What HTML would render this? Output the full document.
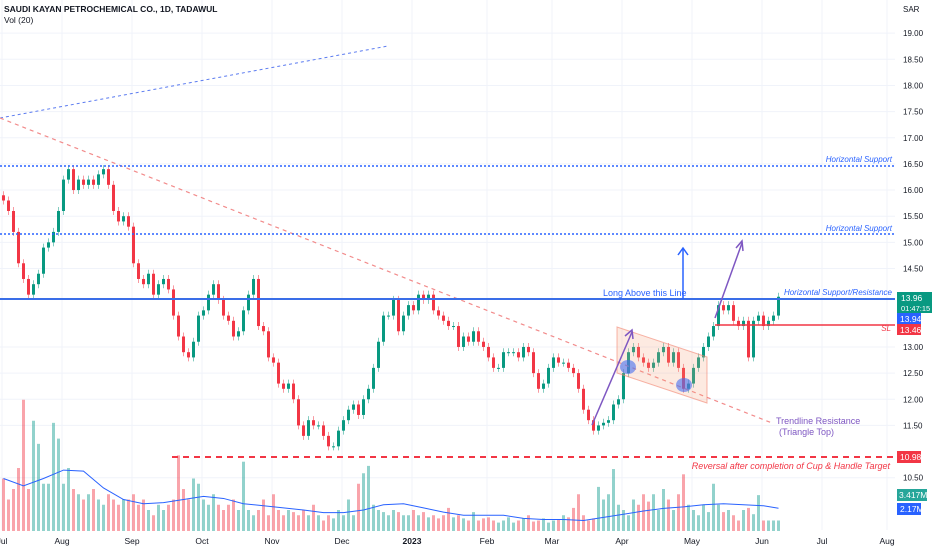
<!DOCTYPE html>
<html><head><meta charset="utf-8">
<style>
body{margin:0;background:#fff;font-family:"Liberation Sans",sans-serif}
#wrap{position:relative;width:932px;height:550px;overflow:hidden}
svg text{font-family:"Liberation Sans",sans-serif}
</style></head>
<body>
<div id="wrap">
<svg id="chart" width="932" height="550">
<g id="grid"></g>
<g id="vol"></g>
<g id="candles"></g>
<g id="draw">
 <line x1="0" y1="118" x2="388" y2="46" stroke="#5b7bf0" stroke-width="1" stroke-dasharray="3,3"/>
 <line x1="0" y1="118" x2="772" y2="423" stroke="#f28b8b" stroke-width="1.2" stroke-dasharray="4,4"/>
 <line x1="0" y1="166" x2="895" y2="166" stroke="#2962ff" stroke-width="1.5" stroke-dasharray="2,2"/>
 <line x1="0" y1="234" x2="895" y2="234" stroke="#2962ff" stroke-width="1.5" stroke-dasharray="2,2"/>
 <line x1="0" y1="299" x2="895" y2="299" stroke="#3a6ee8" stroke-width="2"/>
 <line x1="715" y1="325" x2="895" y2="325" stroke="#f23645" stroke-width="1.5"/>
 <line x1="172" y1="457" x2="895" y2="457" stroke="#f23645" stroke-width="2" stroke-dasharray="6,5"/>
 <polygon points="617,327 707,357 707,403 617,373" fill="rgba(245,160,120,0.22)" stroke="rgba(242,130,110,0.6)" stroke-width="1"/>
 <ellipse cx="628" cy="367" rx="8" ry="7" fill="rgba(70,110,240,0.6)"/>
 <ellipse cx="684" cy="385" rx="8" ry="7" fill="rgba(70,110,240,0.6)"/>
 <line x1="592" y1="425" x2="632" y2="332" stroke="#7e57c2" stroke-width="1.5"/>
 <polyline points="625,336 632,330 633,339" fill="none" stroke="#7e57c2" stroke-width="1.5"/>
 <line x1="715" y1="318" x2="742" y2="243" stroke="#7e57c2" stroke-width="1.5"/>
 <polyline points="736,248 742,241 743,251" fill="none" stroke="#7e57c2" stroke-width="1.5"/>
 <line x1="683" y1="299" x2="683" y2="249" stroke="#2962ff" stroke-width="1.5"/>
 <polyline points="678,255 683,248 688,255" fill="none" stroke="#2962ff" stroke-width="1.5"/>
 <text x="603" y="296" font-size="9" fill="#2962ff">Long Above this Line</text>
 <text x="892" y="162" font-size="8" font-style="italic" fill="#2962ff" text-anchor="end">Horizontal Support</text>
 <text x="892" y="231" font-size="8" font-style="italic" fill="#2962ff" text-anchor="end">Horizontal Support</text>
 <text x="892" y="295" font-size="8" font-style="italic" fill="#2962ff" text-anchor="end">Horizontal Support/Resistance</text>
 <text x="891" y="331" font-size="8" font-style="italic" fill="#f23645" text-anchor="end">SL</text>
 <text x="776" y="424" font-size="9" fill="#7e57c2">Trendline Resistance</text>
 <text x="779" y="435" font-size="9" fill="#7e57c2">(Triangle Top)</text>
 <text x="890" y="469" font-size="9" font-style="italic" fill="#f23645" text-anchor="end">Reversal after completion of Cup &amp; Handle Target</text>
</g>
<g id="axis"></g>
<g id="xaxis"></g>
<g id="labels">
 <rect x="897" y="292" width="35" height="21" fill="#089981"/>
 <text x="901" y="301" font-size="8.5" fill="#fff">13.96</text>
 <text x="901" y="311" font-size="7.5" fill="#fff">01:47:15</text>
 <rect x="897" y="313" width="24" height="11" fill="#2962ff"/>
 <text x="900" y="322" font-size="8.5" fill="#fff">13.94</text>
 <rect x="897" y="324" width="24" height="11" fill="#f23645"/>
 <text x="900" y="333" font-size="8.5" fill="#fff">13.46</text>
 <rect x="897" y="451" width="24" height="12" fill="#f23645"/>
 <text x="900" y="460" font-size="8.5" fill="#fff">10.98</text>
 <rect x="897" y="489" width="30" height="12" fill="#26a69a"/>
 <text x="899" y="498" font-size="8.5" fill="#fff">3.417M</text>
 <rect x="897" y="503" width="24" height="12" fill="#2962ff"/>
 <text x="900" y="512" font-size="8.5" fill="#fff">2.17M</text>
</g>
<text x="4" y="12" font-size="8.5" font-weight="bold" fill="#131722">SAUDI KAYAN PETROCHEMICAL CO., 1D, TADAWUL</text>
<text x="4" y="23" font-size="8.5" fill="#131722">Vol (20)</text>
<text x="903" y="12" font-size="8" fill="#131722">SAR</text>
</svg>
</div>
<script>
const closes=[15.8,15.6,15.2,14.6,14.3,14.0,14.2,14.4,14.9,15.0,15.2,15.6,16.2,16.4,16.0,16.2,16.1,16.2,16.1,16.3,16.4,16.1,15.6,15.4,15.5,15.3,14.6,14.3,14.2,14.4,14.0,14.2,14.3,14.1,13.6,13.2,12.9,12.8,13.1,13.6,13.7,14.0,14.2,13.9,13.6,13.5,13.2,13.3,13.7,14.0,14.3,13.4,13.3,12.8,12.7,12.3,12.2,12.3,12.0,11.5,11.3,11.6,11.5,11.5,11.3,11.1,11.1,11.4,11.6,11.8,11.9,11.7,12.0,12.2,12.6,13.1,13.6,13.6,13.9,13.3,13.6,13.8,13.7,14.0,13.9,14.0,13.7,13.6,13.5,13.4,13.4,13.0,13.2,13.1,13.3,13.1,13.0,12.8,12.6,12.6,12.9,12.9,12.9,12.8,13.0,12.9,12.5,12.2,12.3,12.6,12.8,12.7,12.7,12.6,12.5,12.2,11.8,11.6,11.4,11.5,11.55,11.6,11.9,12.0,12.5,12.9,13.0,12.8,12.7,12.6,12.7,12.9,13.0,12.7,12.9,12.6,12.2,12.3,12.6,12.8,13.0,13.2,13.4,13.8,13.7,13.8,13.5,13.4,13.5,12.8,13.5,13.6,13.4,13.5,13.6,13.96];
const firstOpen=15.9;
const volumes=[5,3,4,6,12.5,4,10.5,8.3,4.5,4.5,10.3,8.8,4.5,6,4,3.5,3,3.5,4,3,2.5,3.5,3,2.5,3,3,3.5,2.5,3,2,1.5,2.5,2,2.5,3,7.2,4,3,5,4.5,3,2.5,3.5,2.5,2,2.5,3,2,6.6,2,1.5,2,3,1.5,3.5,2,1.5,2,1.8,1.5,2,1.5,2.5,1.5,1,1.5,1.2,2,1.5,3,1.5,4.5,5.5,6.2,2.5,2,1.8,1.5,2,1.8,1.5,1.5,2,1.5,1.8,1.3,1.5,1.2,1.5,2.2,1.3,1.5,1.2,1.0,1.8,1.0,1.2,1.3,1.0,0.8,1.0,1.3,0.8,1.0,1.2,1.5,0.9,1.0,1.2,0.8,1.0,1.1,1.5,1.3,2.2,3.5,1.5,1.0,1.2,4.2,3.0,3.5,5.9,2.5,2.0,1.5,3.0,2.5,3.5,2.8,3.5,2.0,4.0,3.0,2.0,3.5,5.4,2.5,2.0,1.5,2.5,1.8,4.5,2.5,1.8,2.0,1.5,1.0,2.0,2.2,1.6,3.417];
const volMA=[5.0,4.3,5.0,5.8,5.7,4.1,3.0,2.6,2.7,3.0,3.3,3.1,2.6,2.4,2.2,2.0,1.75,1.75,2.0,2.5,2.6,2.2,1.8,1.5,1.5,1.5,1.2,1.1,1.1,1.0,1.3,1.6,1.9,2.15,2.3,2.5,2.6,2.5,2.4,2.17];
const priceTicks=[19.00,18.50,18.00,17.50,17.00,16.50,16.00,15.50,15.00,14.50,13.00,12.50,12.00,11.50,10.50];
const monthLabels=["Jul","Aug","Sep","Oct","Nov","Dec","2023","Feb","Mar","Apr","May","Jun","Jul","Aug"];
const monthBars=[0,12,26,40,54,68,82,97,110,124,138,152,164,177];

const NS="http://www.w3.org/2000/svg";
function el(t,a,p){const e=document.createElementNS(NS,t);for(const k in a)e.setAttribute(k,a[k]);p.appendChild(e);return e;}
const yP=p=>166+(16.46-p)*52.3;
const xI=i=>2+i*5;
const volBase=531, yV=v=>volBase-v*10.5;
const grid=document.getElementById('grid'),axis=document.getElementById('axis'),xa=document.getElementById('xaxis');
priceTicks.forEach(t=>{
 const y=yP(t);
 const g=el('line',{x1:0,x2:895,y1:y,y2:y,stroke:'#f0f3fa','stroke-width':1},grid);
 
 
 const tx=el('text',{x:903,y:y+3,'font-size':8,fill:'#131722'},axis);tx.textContent=t.toFixed(2);
 
 
});
monthLabels.forEach((m,k)=>{
 const x=xI(monthBars[k]);
 const g=el('line',{x1:x,x2:x,y1:0,y2:530,stroke:'#f0f3fa','stroke-width':1},grid);
 
 
 const tx=el('text',{x:x,y:544,'font-size':8.5,fill:'#131722','text-anchor':'middle','font-weight':m==='2023'?'bold':'normal'},xa);tx.textContent=m;
 
 
});
const cg=document.getElementById('candles'),vg=document.getElementById('vol');
closes.forEach((c,i)=>{
 const o=i===0?firstOpen:closes[i-1];
 const up=c>=o,col=up?'#089981':'#f23645';
 const x=xI(i),y1=yP(Math.max(o,c)),y2=yP(Math.min(o,c));
 const w=el('line',{x1:x+1.5,x2:x+1.5,y1:y1-4,y2:y2+4,stroke:up?'rgba(8,153,129,0.5)':'rgba(242,54,69,0.5)','stroke-width':1},cg);
 
 
 const b=el('rect',{x:x,y:y1,width:3,height:Math.max(1,y2-y1),fill:col},cg);
 
 
 const v=volumes[i]||1;
 const vb=el('rect',{x:x,y:yV(v),width:3,height:v*10.5,fill:up?'rgba(38,166,154,0.5)':'rgba(242,54,69,0.45)'},vg);
 
 
});
const pts=volMA.map((v,k)=>xI(Math.min(k*4,closes.length-1))+1.5+','+yV(v)).join(' ');
const ma=el('polyline',{points:pts,fill:'none',stroke:'#2962ff','stroke-width':1},vg);


</script>
</body></html>
